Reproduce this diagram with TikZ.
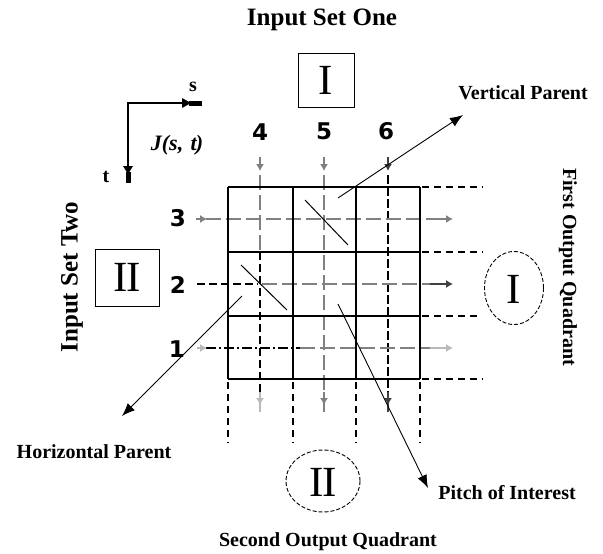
\documentclass[tikz,border=0pt]{standalone}
\usepackage{fontspec}
\setmainfont{Liberation Serif}
\setsansfont{DejaVu Sans}
\usetikzlibrary{arrows.meta}
\begin{document}
\begin{tikzpicture}[x=1pt,y=-1pt,
  title/.style={font=\bfseries\fontsize{25}{27}\selectfont, inner sep=0pt},
  lbl/.style={font=\bfseries\fontsize{20}{22}\selectfont, inner sep=0pt},
  num/.style={font=\sffamily\bfseries\fontsize{23}{24}\selectfont, inner sep=0pt},
  roman/.style={font=\fontsize{43}{43}\selectfont, inner sep=0pt},
  gridline/.style={line width=1.3pt, black},
  outdash/.style={line width=1.2pt, black, dash pattern=on 7pt off 5pt},
  feedg/.style={gray, line width=1.2pt, -{Latex[length=7pt,width=8pt]}},
  feedl/.style={gray!55, line width=1.2pt, -{Latex[length=7pt,width=8pt]}},
  feedd/.style={black!75, line width=1.2pt, -{Latex[length=7pt,width=8pt]}},
  innerg/.style={gray, line width=1.2pt, dash pattern=on 15pt off 5pt},
  innerk/.style={black, line width=1.1pt, dash pattern=on 8pt off 4pt},
  innerdd/.style={black, line width=1.1pt, dash pattern=on 10pt off 3pt on 2pt off 3pt},
  lead/.style={line width=0.9pt, -{Latex[length=13pt,width=10pt]}},
  slash/.style={line width=1pt, black},
  axis/.style={line width=1.2pt, black},
  quad/.style={line width=0.9pt, dash pattern=on 4pt off 2pt}
]
\useasboundingbox (0,0) rectangle (603,554);

% ---------- texts ----------
\node[title] (in1) at (322,20) {Input Set One};
\node[title, rotate=90] (in2) at (72,277) {Input Set Two};
\node[lbl, rotate=-90] (out1) at (568,267) {First Output Quadrant};
\node[lbl] (out2) at (328,542) {Second Output Quadrant};
\node[lbl] (vpl) at (523,93) {Vertical Parent};
\node[lbl] (hpl) at (94,452) {Horizontal Parent};
\node[lbl] (pil) at (507,493) {Pitch of Interest};

% roman boxes
\node[draw, line width=1pt, minimum width=56pt, minimum height=54pt, inner sep=0pt] (boxI) at (326,80) {};
\node[roman] (rI) at (boxI.center) {I};
\node[draw, line width=1pt, minimum width=64pt, minimum height=57pt, inner sep=0pt] (boxII) at (127,277.5) {};
\node[roman] (rII) at (boxII.center) {I\kern-1.5ptI};
\draw[quad] (514,288) ellipse [x radius=29.5pt, y radius=36.5pt];
\node[roman] (rI2) at (514,289) {I};
\draw[quad] (323,481) ellipse [x radius=37pt, y radius=31pt];
\node[roman] (rII2) at (323,482) {I\kern-1.5ptI};

% axes
\coordinate (o) at (128,103);
\coordinate (sa) at (184,103);
\coordinate (ta) at (128,167);
\draw[axis] (sa) -- (o) -- (ta);
\fill (182,98) -- (191,103) -- (182,108) -- cycle;
\fill (189,100.5) rectangle (202,105.5);
\fill (123,166) -- (128,174) -- (133,166) -- cycle;
\fill (125.5,172) rectangle (130.5,183);
\node[lbl] (sl) at (193,87) {s};
\node[lbl] (tl) at (106,177) {t};
\node[font=\bfseries\itshape\fontsize{22}{24}\selectfont, inner sep=0pt] (J) at (177,145) {J(s,\,\,t\kern-1pt)};

% numbers
\node[num] (n4) at (260,132) {4};
\node[num] (n5) at (324,131) {5};
\node[num] (n6) at (386,131) {6};
\node[num] (n3) at (178,218) {3};
\node[num] (n2) at (178,285) {2};
\node[num] (n1) at (177,349) {1};

% ---------- inner dashed lines ----------
\draw[innerg] (260,175) -- (260,252);
\draw[innerk] (260,252) -- (260,392);
\draw[innerg] (324,175) -- (324,392);
\draw[innerk, dash pattern=on 9pt off 3pt] (388,175) -- (388,392);
\draw[innerg] (206,219) -- (443,219);
\draw[innerk] (197,284) -- (258,284);
\draw[innerg] (262,284) -- (443,284);
\draw[innerdd] (206,348) -- (300,348);
\draw[innerg] (300,348) -- (443,348);

% ---------- grid ----------
\foreach \x in {228,293,356,420} \draw[gridline] (\x,187) -- (\x,379);
\foreach \y in {187,252,316,379} \draw[gridline] (228,\y) -- (420,\y);
\foreach \y in {187,252,379} \draw[outdash] (422,\y) -- (483,\y);
\draw[outdash] (422,316) -- (480,316);
\foreach \x in {228,293,356,420} \draw[outdash] (\x,382) -- (\x,443);

% ---------- feed arrows ----------
\draw[feedg] (260,157) -- (260,171);
\draw[feedg] (324,157) -- (324,171);
\draw[feedd] (388,157) -- (388,171);
\draw[feedg] (196,219) -- (207,219);
\draw[feedl] (197,348) -- (207,348);
\draw[feedg] (430,219) -- (453,219);
\draw[feedd] (430,284) -- (453,284);
\draw[feedl] (430,348) -- (453,348);
\draw[feedl] (260,392) -- (260,405);
\draw[gray!55, line width=1.2pt] (260,403) -- (260,412);
\draw[feedg] (324,392) -- (324,405);
\draw[gray, line width=1.2pt] (324,403) -- (324,412);
\draw[feedd] (388,392) -- (388,405);
\draw[black!75, line width=1.2pt] (388,403) -- (388,412);

% ---------- parent slashes ----------
\draw[slash] (305,200) -- (348,245);
\draw[slash] (241,265) -- (287,310);

% ---------- leader arrows ----------
\coordinate (vps) at (338,198);
\coordinate (vpe) at (463,115);
\coordinate (hps) at (242,296);
\coordinate (hpe) at (122,416);
\coordinate (pis) at (338,304);
\coordinate (pie) at (428,488);
\draw[lead] (vps) -- (vpe);
\draw[lead] (hps) -- (hpe);
\draw[lead] (pis) -- (pie);
\end{tikzpicture}
\end{document}
